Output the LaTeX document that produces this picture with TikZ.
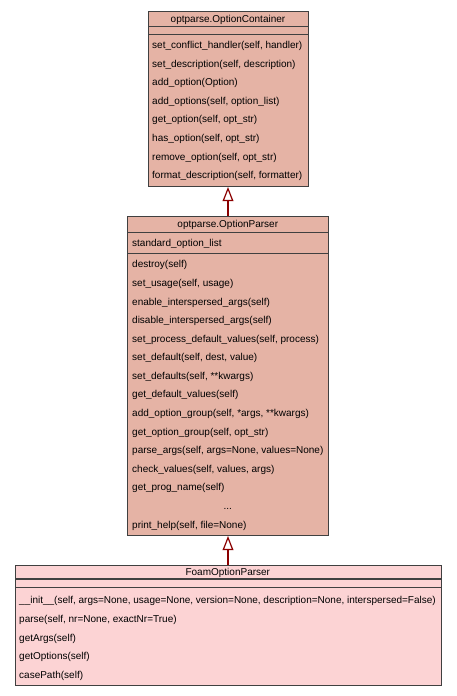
\documentclass[tikz,border=0pt]{standalone}
\usepackage{fontspec}
\setmainfont{Liberation Sans}
\usetikzlibrary{arrows.meta}
\definecolor{boxfill}{HTML}{E5B3A5}
\definecolor{leaffill}{HTML}{FCD3D4}
\definecolor{edgecol}{HTML}{404040}
\definecolor{arrowcol}{HTML}{8B0000}
\tikzset{
  classbox/.style={draw=edgecol, line width=1pt, inner sep=0pt, anchor=north west},
  sepline/.style={draw=edgecol, line width=1.3pt},
  txt/.style={inner sep=0pt, anchor=base west, yshift=-3.6pt, font=\fontsize{10}{12}\selectfont, text=black},
  ttl/.style={inner sep=0pt, anchor=base, yshift=-3.6pt, font=\fontsize{10}{12}\selectfont, text=black},
  inherit/.style={draw=arrowcol, line width=1.8pt,
    -{Triangle[open, fill=white, length=14pt, width=10.7pt, line width=1.2pt]}}
}
\begin{document}
\begin{tikzpicture}[x=1pt,y=-1pt]
\useasboundingbox[fill=white] (0,0) rectangle (456,696);

% ---------- optparse.OptionContainer ----------
\node[classbox, fill=boxfill, minimum width=160pt, minimum height=175.3pt] (oc) at (148,10.7) {};
\draw[sepline] (148,26.7) -- (308,26.7);
\draw[sepline] (148,34.3) -- (308,34.3);
\node[ttl] (octitle) at (228,18.7) {optparse.OptionContainer};
\node[txt] (oc1) at (152,45.0) {set\_conflict\_handler(self, handler)};
\node[txt] (oc2) at (152,63.4) {set\_description(self, description)};
\node[txt] (oc3) at (152,82.0) {add\_option(Option)};
\node[txt] (oc4) at (152,100.6) {add\_options(self, option\_list)};
\node[txt] (oc5) at (152,119.2) {get\_option(self, opt\_str)};
\node[txt] (oc6) at (152,137.8) {has\_option(self, opt\_str)};
\node[txt] (oc7) at (152,156.4) {remove\_option(self, opt\_str)};
\node[txt] (oc8) at (152,175.0) {format\_description(self, formatter)};

% ---------- optparse.OptionParser ----------
\node[classbox, fill=boxfill, minimum width=201pt, minimum height=319.3pt] (op) at (127.3,215.7) {};
\draw[sepline] (127.3,232.7) -- (328.3,232.7);
\draw[sepline] (127.3,253.3) -- (328.3,253.3);
\node[ttl] (optitle) at (227.8,224) {optparse.OptionParser};
\node[txt] (opa) at (132,242.7) {standard\_option\_list};
\node[txt] (op1) at (132,264.3) {destroy(self)};
\node[txt] (op2) at (132,282.9) {set\_usage(self, usage)};
\node[txt] (op3) at (132,301.4) {enable\_interspersed\_args(self)};
\node[txt] (op4) at (132,320.0) {disable\_interspersed\_args(self)};
\node[txt] (op5) at (132,338.6) {set\_process\_default\_values(self, process)};
\node[txt] (op6) at (132,357.1) {set\_default(self, dest, value)};
\node[txt] (op7) at (132,375.7) {set\_defaults(self, **kwargs)};
\node[txt] (op8) at (132,394.3) {get\_default\_values(self)};
\node[txt] (op9) at (132,412.9) {add\_option\_group(self, *args, **kwargs)};
\node[txt] (op10) at (132,431.4) {get\_option\_group(self, opt\_str)};
\node[txt] (op11) at (132,450.0) {parse\_args(self, args=None, values=None)};
\node[txt] (op12) at (132,468.6) {check\_values(self, values, args)};
\node[txt] (op13) at (132,487.1) {get\_prog\_name(self)};
\node[ttl] (op14) at (227.8,505.7) {...};
\node[txt] (op15) at (132,524.5) {print\_help(self, file=None)};

% ---------- FoamOptionParser ----------
\node[classbox, fill=leaffill, minimum width=425.7pt, minimum height=120pt] (fp) at (15,565) {};
\draw[sepline] (15,579) -- (440.7,579);
\draw[sepline] (15,587.7) -- (440.7,587.7);
\node[ttl] (fptitle) at (227.8,572) {FoamOptionParser};
\node[txt] (fp1) at (19,600.0) {\_\_init\_\_(self, args=None, usage=None, version=None, description=None, interspersed=False)};
\node[txt] (fp2) at (19,618.8) {parse(self, nr=None, exactNr=True)};
\node[txt] (fp3) at (19,637.4) {getArgs(self)};
\node[txt] (fp4) at (19,656.2) {getOptions(self)};
\node[txt] (fp5) at (19,675.0) {casePath(self)};

% ---------- inheritance ----------
\draw[inherit] (op.north -| octitle) -- (oc.south -| octitle);
\draw[inherit] (fp.north -| octitle) -- (op.south -| octitle);
\end{tikzpicture}
\end{document}
